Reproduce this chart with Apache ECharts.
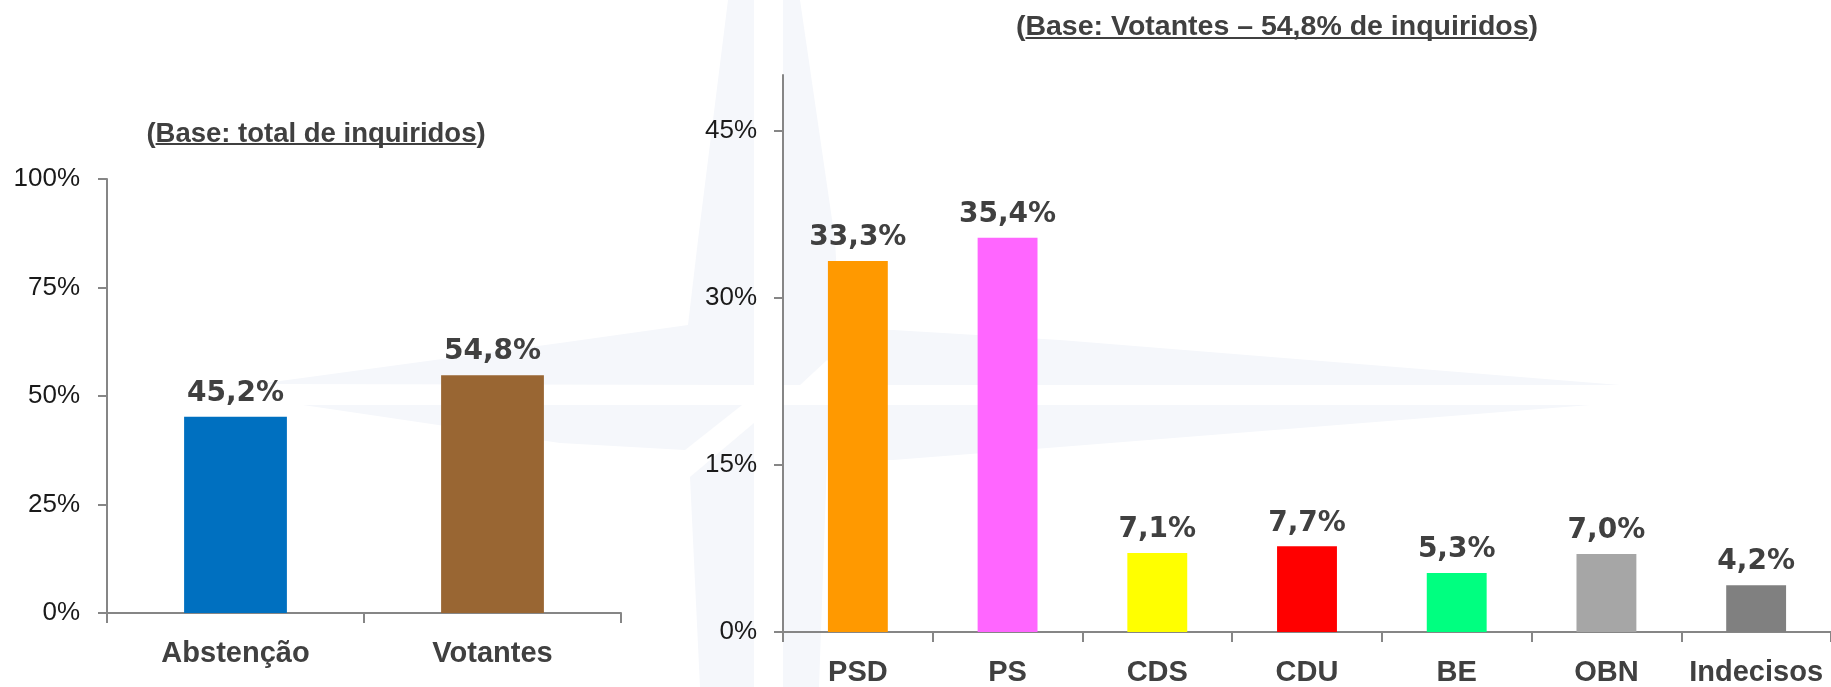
<!DOCTYPE html>
<html>
<head>
<meta charset="utf-8">
<script src="https://cdn.jsdelivr.net/npm/echarts@6/dist/echarts.min.js"></script>
<style>
  html, body { margin: 0; padding: 0; background: #fff; }
  #chart { width: 1831px; height: 687px; }
</style>
</head>
<body>
<div id="chart"></div>
<script>
// left panel: whole sample
var leftCats = ['Abstenção', 'Votantes'];
var leftValues = [45.2, 54.8];
var leftColors = ['#0070C0', '#996633'];

// right panel: voters only
var rightCats = ['PSD', 'PS', 'CDS', 'CDU', 'BE', 'OBN', 'Indecisos'];
var rightValues = [33.3, 35.4, 7.1, 7.7, 5.3, 7.0, 4.2];
var rightColors = ['#FF9900', '#FF66FF', '#FFFF00', '#FF0000', '#00FF80', '#A6A6A6', '#808080'];
var rightTicks = [0, 15, 30, 45];

var titleLeft = { pre: '(', inner: 'Base: total de inquiridos', post: ')' };
var titleRight = { pre: '(', inner: 'Base: Votantes – 54,8% de inquiridos', post: ')' };

var textDark = '#404040';
var axisGray = '#868686';
var wmColor = '#F5F7FB';

var pct = function(v){ return v.toFixed(1).replace('.', ',') + '%'; };

var measure = (function(){
	var ctx = document.createElement('canvas').getContext('2d');
	return function(txt, font){ ctx.font = font; return ctx.measureText(txt).width; };
})();

// underlined title: text + rect under the inner part
var makeTitle = function(t, cx, cy, size, lineY){
	var font = 'bold ' + size + 'px "Liberation Sans"';
	var full = t.pre + t.inner + t.post;
	var w = measure(full, font);
	var x0 = cx - w / 2 + measure(t.pre, font);
	var wi = measure(t.inner, font);
	return [
		{ type: 'text', z: 10, silent: true,
		  style: { x: cx, y: cy, text: full, font: font, fill: textDark,
		           align: 'center', verticalAlign: 'middle', textAlign: 'center', textVerticalAlign: 'middle' } },
		{ type: 'rect', z: 10, silent: true,
		  shape: { x: x0, y: lineY, width: wi, height: 2 }, style: { fill: textDark } }
	];
};

// faint compass watermark behind the charts (decoration only)
var wmPolys = [
	[[728,0],[754,0],[754,385],[258,384],[560,343],[688,325],[698,240]],
	[[783,0],[800,0],[835,240],[840,330],[893,330],[1060,340],[1620,385],[850,385],[827,360],[800,385],[783,385]],
	[[303,405],[742,405],[685,450],[560,443]],
	[[754,423],[754,687],[700,687],[690,477]],
	[[783,405],[1590,405],[1060,447],[893,460],[827,460],[819,687],[783,687]]
];
var graphics = wmPolys.map(function(p){
	return { type: 'polygon', z: -1, silent: true, shape: { points: p }, style: { fill: wmColor } };
});
graphics = graphics.concat(makeTitle(titleLeft, 316, 134, 27.5, 143));
graphics = graphics.concat(makeTitle(titleRight, 1277, 27, 28.5, 37));

var yLabel = { color: '#1a1a1a', fontFamily: 'Liberation Sans', fontSize: 26 };
var xLabel = { color: textDark, fontFamily: 'Liberation Sans', fontWeight: 'bold', fontSize: 29, interval: 0 };
var axLine = { show: true, lineStyle: { color: axisGray, width: 2 } };
var barLabel = {
	show: true, position: 'top', distance: 9,
	color: textDark, fontFamily: 'DejaVu Sans', fontWeight: 'bold', fontSize: 28,
	formatter: function(p){ return pct(p.value); }
};

var toItems = function(vals, cols){
	return vals.map(function(v, i){ return { value: v, itemStyle: { color: cols[i] } }; });
};

var chart = echarts.init(document.getElementById('chart'));
chart.setOption({
	animation: false,
	backgroundColor: '#fff',
	graphic: graphics,
	grid: [
		{ left: 107, top: 179, width: 514, height: 434 },
		{ left: 783, top: 75, width: 1058, height: 560 }
	],
	xAxis: [
		{ type: 'category', gridIndex: 0, data: leftCats,
		  axisLine: axLine, axisTick: { show: true, length: 10, lineStyle: { color: axisGray, width: 2 } },
		  axisLabel: Object.assign({ margin: 26 }, xLabel) },
		{ type: 'category', gridIndex: 1, data: rightCats,
		  axisLine: axLine, axisTick: { show: true, length: 10, lineStyle: { color: axisGray, width: 2 } },
		  axisLabel: Object.assign({ margin: 26 }, xLabel) }
	],
	yAxis: [
		{ type: 'value', gridIndex: 0, min: 0, max: 100, interval: 25,
		  axisLine: axLine, axisTick: { show: true, length: 9, lineStyle: { color: axisGray, width: 2 } },
		  splitLine: { show: false },
		  axisLabel: Object.assign({ margin: 27, formatter: '{value}%' }, yLabel) },
		{ type: 'value', gridIndex: 1, min: 0, max: 50,
		  axisLine: axLine,
		  axisTick: { show: true, length: 9, customValues: rightTicks, lineStyle: { color: axisGray, width: 2 } },
		  splitLine: { show: false },
		  axisLabel: Object.assign({ margin: 26, customValues: rightTicks, formatter: '{value}%' }, yLabel) }
	],
	series: [
		{ type: 'bar', xAxisIndex: 0, yAxisIndex: 0, barWidth: '40%',
		  data: toItems(leftValues, leftColors), label: barLabel },
		{ type: 'bar', xAxisIndex: 1, yAxisIndex: 1, barWidth: '40%',
		  data: toItems(rightValues, rightColors), label: barLabel }
	]
});
</script>
</body>
</html>
